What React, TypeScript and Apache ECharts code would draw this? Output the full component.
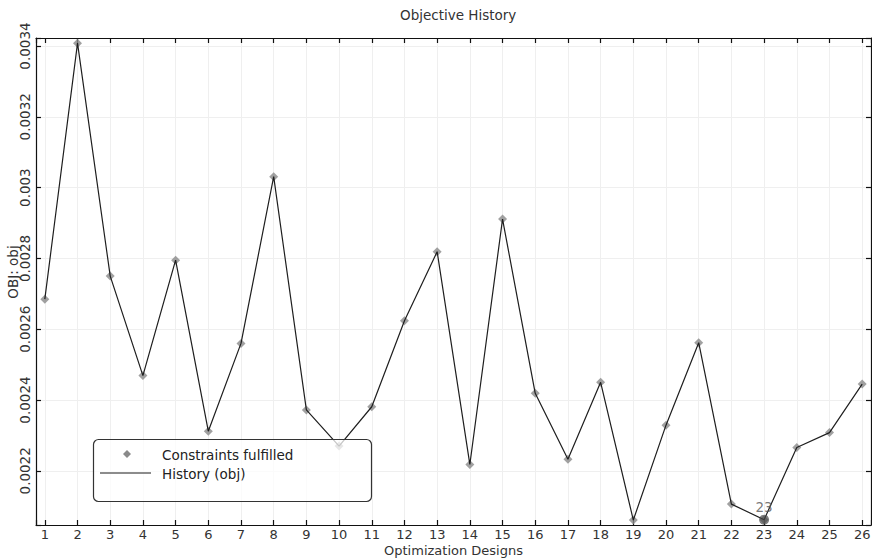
import React, { useEffect, useRef } from "react";
import * as echarts from "echarts";

const designs = [1, 2, 3, 4, 5, 6, 7, 8, 9, 10, 11, 12, 13, 14, 15, 16, 17, 18, 19, 20, 21, 22, 23, 24, 25, 26];
const objective = [
  0.002685, 0.003408, 0.00275, 0.002469, 0.002795, 0.002312, 0.00256, 0.003031, 0.002372, 0.00227,
  0.002381, 0.002624, 0.002819, 0.002218, 0.002911, 0.002419, 0.002233, 0.00245, 0.002061, 0.002329,
  0.002562, 0.002106, 0.002062, 0.002266, 0.002308, 0.002445,
];
const bestDesign = 23;
const xRange = [0.73, 26.27];
const yRange = [0.002047, 0.0034226];
const yStep = 0.0002;

const FONT = "DejaVu Sans";
const FS = 13.5;
const FSX = 13;

export default function App() {
  const ref = useRef<HTMLDivElement>(null);
  useEffect(() => {
    if (!ref.current) return;
    const chart = echarts.init(ref.current, undefined, { renderer: "svg" });
    const pts = designs.map((d, i) => [d, objective[i]]);
    const bestIdx = designs.indexOf(bestDesign);
    const yFmt = (v: number) => {
      const r = Math.round(v / yStep);
      if (Math.abs(v - r * yStep) > 1e-9) return "";
      return String(+(r * yStep).toFixed(4));
    };
    const xFmt = (v: number) => (Math.abs(v - Math.round(v)) > 1e-6 ? "" : String(Math.round(v)));
    const axisLine = { show: true, lineStyle: { color: "#111", width: 1.2 } };
    const tick = { show: true, inside: true, length: 5, lineStyle: { color: "#111", width: 1.2 } };
    const split = { show: true, lineStyle: { color: "#efefef", width: 1 } };
    const Z = 100;
    chart.setOption({
      animation: false,
      backgroundColor: "#fff",
      textStyle: { fontFamily: FONT },
      title: {
        text: "Objective History",
        left: 395,
        top: 3,
        textStyle: { fontFamily: FONT, fontSize: FS, fontWeight: "normal", color: "#333" },
      },
      grid: { left: 36, right: 1, top: 38, bottom: 33, containLabel: false, outerBoundsMode: "none" },
      xAxis: [
        {
          type: "value",
          min: xRange[0],
          max: xRange[1],
          minInterval: 1,
          maxInterval: 1,
          position: "bottom",
          name: "Optimization Designs",
          nameLocation: "middle",
          nameGap: 19,
          nameMoveOverlap: false,
          nameTextStyle: { fontFamily: FONT, fontSize: FSX, color: "#333", lineHeight: 12 },
          axisLine,
          axisTick: tick,
          splitLine: split,
          axisLabel: { formatter: xFmt, fontFamily: FONT, fontSize: FSX, color: "#333", margin: 3, lineHeight: 12 },
        },
        {
          type: "value",
          min: xRange[0],
          max: xRange[1],
          minInterval: 1,
          maxInterval: 1,
          position: "top",
          axisLine,
          axisTick: tick,
          splitLine: { show: false },
          axisLabel: { show: false },
        },
      ],
      yAxis: [
        {
          type: "value",
          min: yRange[0],
          max: yRange[1],
          minInterval: yStep,
          maxInterval: yStep,
          position: "left",
          axisLine,
          axisTick: tick,
          splitLine: split,
          axisLabel: { formatter: yFmt, rotate: 90, fontFamily: FONT, fontSize: FS, color: "#333", margin: 4 },
        },
        {
          type: "value",
          min: yRange[0],
          max: yRange[1],
          minInterval: yStep,
          maxInterval: yStep,
          position: "right",
          axisLine,
          axisTick: tick,
          splitLine: { show: false },
          axisLabel: { show: false },
        },
      ],
      series: [
        {
          name: "Constraints fulfilled",
          type: "scatter",
          symbol: "diamond",
          symbolSize: 9,
          itemStyle: { color: "#8a8a8a" },
          data: pts,
          z: 2,
        },
        {
          name: "History (obj)",
          type: "line",
          symbol: "none",
          lineStyle: { color: "#1e1e1e", width: 1.2 },
          data: pts,
          z: 3,
        },
        {
          name: "Best",
          type: "scatter",
          symbol: "circle",
          symbolSize: 10,
          itemStyle: { color: "rgba(70,70,70,0.85)" },
          label: {
            show: true,
            position: "top",
            distance: 1,
            formatter: (p: any) => String(p.value[0]),
            fontFamily: FONT,
            fontSize: FS,
            color: "#555",
          },
          data: [[designs[bestIdx], objective[bestIdx]]],
          z: 4,
        },
      ],
      graphic: [
        {
          type: "text",
          x: 13,
          y: 272,
          rotation: Math.PI / 2,
          style: {
            text: "OBJ: obj",
            fontFamily: FONT,
            fontSize: FS,
            fill: "#333",
            align: "center",
            verticalAlign: "middle",
          },
        },
        {
          type: "rect",
          z: Z,
          shape: { x: 93.5, y: 439.5, width: 278, height: 62, r: 5 },
          style: { fill: "rgba(255,255,255,0.75)", stroke: "#333", lineWidth: 1.2 },
        },
        {
          type: "polygon",
          z: Z + 1,
          shape: { points: [[127, 450], [131, 454], [127, 458], [123, 454]] },
          style: { fill: "#8a8a8a" },
        },
        {
          type: "line",
          z: Z + 1,
          shape: { x1: 100, y1: 473, x2: 151, y2: 473 },
          style: { stroke: "#666", lineWidth: 1.5 },
        },
        {
          type: "text",
          z: Z + 1,
          x: 162,
          y: 455,
          style: {
            text: "Constraints fulfilled",
            fontFamily: FONT,
            fontSize: FS,
            fill: "#222",
            verticalAlign: "middle",
          },
        },
        {
          type: "text",
          z: Z + 1,
          x: 162,
          y: 474,
          style: {
            text: "History (obj)",
            fontFamily: FONT,
            fontSize: FS,
            fill: "#222",
            verticalAlign: "middle",
          },
        },
      ],
    });
    return () => chart.dispose();
  }, []);
  return (
    <div
      ref={ref}
      style={{ position: "absolute", left: 0, top: 0, width: 872, height: 558 }}
    />
  );
}
